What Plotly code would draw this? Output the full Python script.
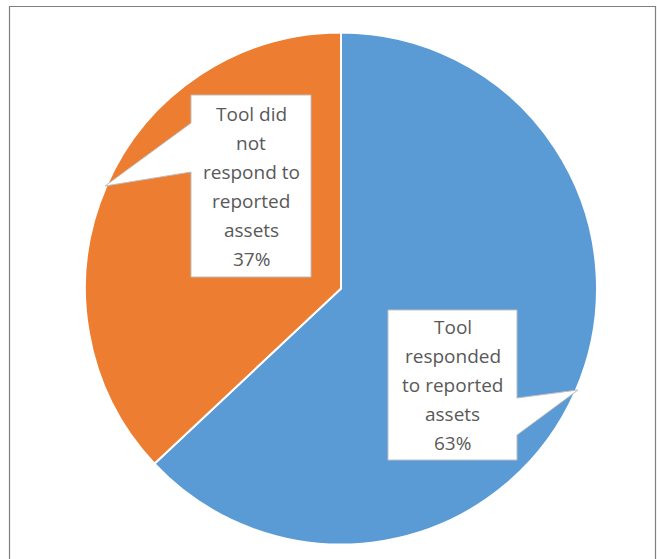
import plotly.graph_objects as go

# ---- data ----
labels = ["Tool responded to reported assets", "Tool did not respond to reported assets"]
values = [63, 37]
colors = ["#5B9BD5", "#ED7D31"]
label_lines = [
    ["Tool", "responded", "to reported", "assets", "63%"],
    ["Tool did", "not", "respond to", "reported", "assets", "37%"],
]

W, H = 657, 559

def px(x):
    return x / W

def py(y):
    return 1 - y / H

# pie geometry (pixels)
cx, cy, r = 341, 288.5, 256

fig = go.Figure(go.Pie(
    labels=labels, values=values, sort=False, direction="clockwise", rotation=0,
    marker=dict(colors=colors, line=dict(color="white", width=2)),
    textinfo="none", hoverinfo="label+percent",
    domain=dict(x=[px(cx - r), px(cx + r)], y=[py(cy + r), py(cy - r)]),
    showlegend=False,
))

def callout_path(box, base, tip):
    (x0, y0, x1, y1) = box
    (side, b0, b1) = base
    if side == "left":
        pts = [(x0, y0), (x1, y0), (x1, y1), (x0, y1), (x0, b1), tip, (x0, b0)]
    else:
        pts = [(x0, y0), (x1, y0), (x1, b0), tip, (x1, b1), (x1, y1), (x0, y1)]
    return "M " + " L ".join(f"{px(x):.5f},{py(y):.5f}" for x, y in pts) + " Z"

shapes = []
# blue callout
shapes.append(dict(type="path", xref="paper", yref="paper",
                   path=callout_path((388, 310, 517, 460), ("right", 398, 435), (578, 390)),
                   fillcolor="white", line=dict(color="#BFBFBF", width=1), layer="above"))
# orange callout
shapes.append(dict(type="path", xref="paper", yref="paper",
                   path=callout_path((191, 95, 311, 277), ("left", 123, 172), (105, 186)),
                   fillcolor="white", line=dict(color="#BFBFBF", width=1), layer="above"))
# chart border
shapes.append(dict(type="rect", xref="paper", yref="paper",
                   x0=px(9.5), x1=px(655.5), y0=py(600), y1=py(6.5),
                   line=dict(color="#7F7F7F", width=1.2), fillcolor="rgba(0,0,0,0)", layer="above"))

annotations = []
centers = [(452.5, 385), (251, 186.5)]
spacing = 29
for (tx, ty), lines in zip(centers, label_lines):
    n = len(lines)
    for i, t in enumerate(lines):
        yy = ty + (i - (n - 1) / 2) * spacing
        annotations.append(dict(x=px(tx), y=py(yy), xref="paper", yref="paper",
                                text=t, showarrow=False, xanchor="center", yanchor="middle",
                                font=dict(family="Open Sans", size=19, color="#595959")))

fig.update_layout(
    width=W, height=H, margin=dict(l=0, r=0, t=0, b=0),
    paper_bgcolor="white", plot_bgcolor="white",
    shapes=shapes, annotations=annotations,
)

fig.write_html("out.html")
